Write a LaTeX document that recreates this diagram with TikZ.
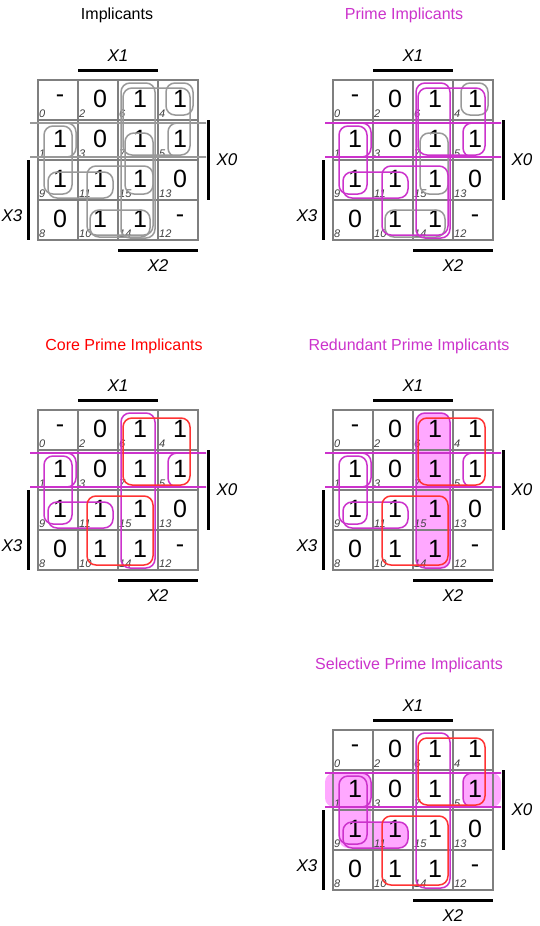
\documentclass[tikz,border=0pt]{standalone}
\usepackage{fontspec}
\setmainfont{Liberation Sans}
\definecolor{mag}{HTML}{CC33CC}
\definecolor{magfill}{HTML}{FFA8FF}
\definecolor{rd}{HTML}{FF3333}
\definecolor{gr}{HTML}{999999}
\definecolor{gridc}{HTML}{7F7F7F}
\tikzset{
 grid/.style={draw=gridc,line width=1.4pt},
 bar/.style={line width=3pt,black},
 val/.style={font=\fontsize{25}{25}\selectfont,inner sep=0pt},
 idx/.style={font=\fontsize{11}{11}\selectfont\itshape,text=black!75,anchor=west,inner sep=0pt},
 lab/.style={font=\fontsize{17}{17}\selectfont\itshape,inner sep=0pt},
 title/.style={font=\fontsize{16}{16}\selectfont,inner sep=0pt},
 grp/.style={line width=1.5pt,rounded corners=9pt},
}
\newcommand\kgrid{%
 \draw[grid] (0,0) rectangle (160,160);
 \foreach \k in {40,80,120}{\draw[grid] (\k,0)--(\k,160); \draw[grid] (0,\k)--(160,\k);}
 \foreach \c/\r/\v/\i in {0/0/-/0,1/0/0/2,2/0/1/6,3/0/1/4,0/1/1/1,1/1/0/3,2/1/1/7,3/1/1/5,0/2/1/9,1/2/1/11,2/2/1/15,3/2/0/13,0/3/0/8,1/3/1/10,2/3/1/14,3/3/-/12}{
  \node[val] at (40*\c+22,40*\r+19) {\v};
  \node[idx] at (40*\c+1,40*\r+34) {\i};}
 \draw[bar] (40,-10)--(120,-10); \node[lab] at (80,-24) {X1};
 \draw[bar] (170,40)--(170,120); \node[lab] at (189,80) {X0};
 \draw[bar] (-10,80)--(-10,160); \node[lab] at (-26,136) {X3};
 \draw[bar] (80,170)--(160,170); \node[lab] at (120,186) {X2};
}
% groups
\newcommand\gA[1]{\draw[grp,#1] (83,3) rectangle (117,158);}
\newcommand\gB[1]{\draw[grp,#1] (85,8) rectangle (152,75);}
\newcommand\gC[1]{\draw[grp,#1] (49,86) rectangle (115,155);}
\newcommand\gD[1]{\draw[grp,#1] (6,46) rectangle (34,114);}
\newcommand\gE[1]{\draw[grp,#1] (10,92) rectangle (75,118);}
\newcommand\gW[1]{\draw[grp,#1] (-8,43)--(38,43)--(38,77)--(-8,77);
 \draw[grp,#1] (168,43)--(130,43)--(130,77)--(168,77);
 \draw[line width=1.5pt,#1] (-8,43)--(168,43) (-8,77)--(168,77);}
\newcommand\gF[1]{\draw[grp,#1] (128,3) rectangle (155,35);}
\newcommand\gG[1]{\draw[grp,#1] (87,53) rectangle (115,114);}
\newcommand\gH[1]{\draw[grp,#1] (52,130) rectangle (112,157);}
\begin{document}
\begin{tikzpicture}[x=1pt,y=-1pt]
\fill[white] (0,0) rectangle (540,926);
\useasboundingbox (0,0) rectangle (540,926);
\node[title] at (117,15) {Implicants};
\node[title,text=mag] at (404,15) {Prime Implicants};
\node[title,text=red] at (124,346) {Core Prime Implicants};
\node[title,text=mag] at (409,346) {Redundant Prime Implicants};
\node[title,text=mag] at (409,665) {Selective Prime Implicants};
% map 1
\begin{scope}[shift={(38,80)}]
 \kgrid
 \gA{gr}\gB{gr}\gC{gr}\gD{gr}\gE{gr}\gW{gr}\gF{gr}\gG{gr}\gH{gr}
\end{scope}
% map 2
\begin{scope}[shift={(333,80)}]
 \kgrid
 \gF{gr}\gG{gr}\gH{gr}
 \gA{mag}\gB{mag}\gC{mag}\gD{mag}\gE{mag}\gW{mag}
\end{scope}
% map 3
\begin{scope}[shift={(38,410)}]
 \kgrid
 \gA{mag}\gD{mag}\gE{mag}\gW{mag}\gB{rd}\gC{rd}
\end{scope}
% map 4
\begin{scope}[shift={(333,410)}]
 \fill[magfill,rounded corners=9pt] (83,3) rectangle (117,158);
 \kgrid
 \gA{mag}\gD{mag}\gE{mag}\gW{mag}\gB{rd}\gC{rd}
\end{scope}
% map 5
\begin{scope}[shift={(333,730)}]
 \fill[magfill,rounded corners=9pt] (-8,43)--(38,43)--(38,77)--(-8,77)--cycle;
 \fill[magfill,rounded corners=9pt] (168,43)--(130,43)--(130,77)--(168,77)--cycle;
 \fill[magfill,rounded corners=9pt] (6,46) rectangle (38,114);
 \fill[magfill,rounded corners=9pt] (6,92) rectangle (75,118);
 \kgrid
 \gA{mag}\gD{mag}\gE{mag}\gW{mag}\gB{rd}\gC{rd}
\end{scope}
\end{tikzpicture}
\end{document}
